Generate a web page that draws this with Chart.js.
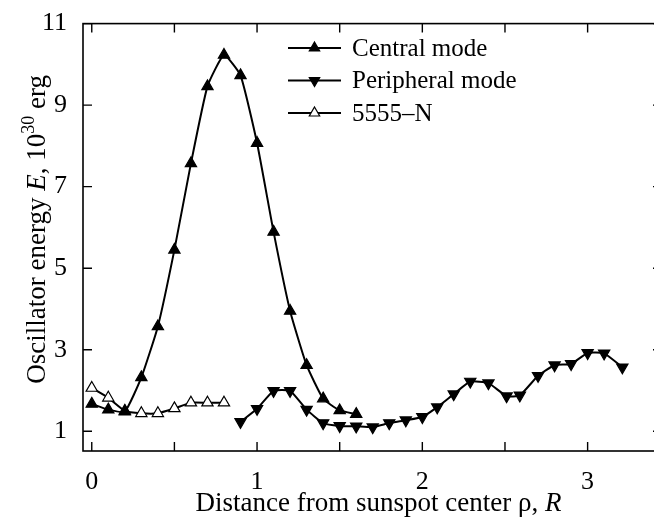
<!DOCTYPE html>
<html><head><meta charset="utf-8">
<script src="https://cdn.jsdelivr.net/npm/chart.js@4.4.1/dist/chart.umd.min.js"></script>
<style>html,body{margin:0;padding:0;background:#fff;overflow:hidden;width:654px;height:519px}#wrap{width:670px;height:519px}</style>
</head><body><div id="wrap"><canvas id="c" width="670" height="519"></canvas></div>
<script>
const seriesLabels = ['Central mode', 'Peripheral mode', '5555\u2013N'];
const centralX = [0, 0.1, 0.2, 0.3, 0.4, 0.5, 0.6, 0.7, 0.8, 0.9, 1.0, 1.1, 1.2, 1.3, 1.4, 1.5, 1.6];
const centralY = [1.67, 1.53, 1.48, 2.32, 3.57, 5.45, 7.57, 9.46, 10.23, 9.73, 8.07, 5.89, 3.95, 2.62, 1.8, 1.51, 1.42];
const peripheralX = [0.9, 1.0, 1.1, 1.2, 1.3, 1.4, 1.5, 1.6, 1.7, 1.8, 1.9, 2.0, 2.09, 2.19, 2.29, 2.4, 2.51, 2.59, 2.7, 2.8, 2.9, 3.0, 3.1, 3.21];
const peripheralY = [1.23, 1.55, 1.99, 1.99, 1.53, 1.2, 1.13, 1.12, 1.10, 1.2, 1.27, 1.35, 1.59, 1.91, 2.22, 2.18, 1.86, 1.88, 2.36, 2.62, 2.65, 2.92, 2.91, 2.57];
const n5555X = [0, 0.1, 0.2, 0.3, 0.4, 0.5, 0.6, 0.7, 0.8];
const n5555Y = [2.06, 1.82, 1.5, 1.44, 1.44, 1.56, 1.7, 1.7, 1.7];
const xTickValues = [0, 0.5, 1, 1.5, 2, 2.5, 3];
const yTickValues = [1, 3, 5, 7, 9, 11];
const xTitleParts = [['Distance from sunspot center \u03c1, ', 'n'], ['R', 'i']];
const yTitleParts = [['Oscillator energy ', 'n'], ['E', 'i'], [', 10', 'n'], ['30', 's'], [' erg', 'n']];

const FONT = '"Liberation Serif", "Times New Roman", serif';
const pts = (xs, ys) => xs.map((x, i) => ({x: x, y: ys[i]}));

function mkSet(label, data, rot, fill) {
  return {
    label: label, data: data, showLine: true,
    borderColor: '#000', borderWidth: 2, tension: 0.15,
    pointStyle: 'triangle', rotation: rot, pointRotation: rot,
    pointRadius: 6.5, pointHoverRadius: 6.5,
    pointBackgroundColor: fill, pointBorderColor: '#000', pointBorderWidth: 1.2
  };
}

function setFont(ctx, kind, size) {
  const s = kind === 's' ? Math.round(size * 0.65) : size;
  ctx.font = (kind === 'i' ? 'italic ' : '') + s + 'px ' + FONT;
}
function drawParts(ctx, parts, size) {
  let total = 0;
  parts.forEach(p => { setFont(ctx, p[1], size); total += ctx.measureText(p[0]).width; });
  let x = -total / 2;
  parts.forEach(p => {
    setFont(ctx, p[1], size);
    ctx.fillText(p[0], x, p[1] === 's' ? -size * 0.4 : 0);
    x += ctx.measureText(p[0]).width;
  });
}

const deco = {
  id: 'deco',
  afterDatasetsDraw(chart) {
    const ctx = chart.ctx, a = chart.chartArea;
    const xs = chart.scales.x, ys = chart.scales.y;
    ctx.save();
    ctx.strokeStyle = '#000';
    ctx.lineWidth = 1.6;
    ctx.strokeRect(a.left, a.top, a.right - a.left, a.bottom - a.top);
    ctx.lineWidth = 1.4;
    const TL = 9;
    ctx.beginPath();
    xs.ticks.forEach(t => {
      const px = xs.getPixelForValue(t.value);
      ctx.moveTo(px, a.bottom); ctx.lineTo(px, a.bottom - TL);
      ctx.moveTo(px, a.top); ctx.lineTo(px, a.top + TL);
    });
    ys.ticks.forEach(t => {
      const py = ys.getPixelForValue(t.value);
      ctx.moveTo(a.left, py); ctx.lineTo(a.left + TL, py);
      ctx.moveTo(a.right, py); ctx.lineTo(a.right - TL, py);
    });
    ctx.stroke();

    // axis titles
    ctx.fillStyle = '#000';
    ctx.textBaseline = 'alphabetic';
    ctx.textAlign = 'left';
    ctx.save();
    ctx.translate((a.left + a.right) / 2 + 6, 511);
    drawParts(ctx, xTitleParts, 27);
    ctx.restore();
    ctx.save();
    ctx.translate(45, (a.top + a.bottom) / 2 - 8);
    ctx.rotate(-Math.PI / 2);
    drawParts(ctx, yTitleParts, 27);
    ctx.restore();

    // legend
    const lx0 = 288, lx1 = 341, ly0 = 48, dy = 32.5, tx = 352;
    chart.data.datasets.forEach((ds, i) => {
      const y = ly0 + i * dy;
      ctx.strokeStyle = '#000';
      ctx.lineWidth = 2;
      ctx.beginPath(); ctx.moveTo(lx0, y); ctx.lineTo(lx1, y); ctx.stroke();
      ctx.fillStyle = ds.pointBackgroundColor;
      ctx.strokeStyle = ds.pointBorderColor;
      ctx.lineWidth = ds.pointBorderWidth;
      Chart.helpers.drawPoint(ctx, {pointStyle: 'triangle', rotation: ds.pointRotation, radius: 6, borderWidth: ds.pointBorderWidth}, (lx0 + lx1) / 2, y);
      ctx.fillStyle = '#000';
      ctx.font = '25px ' + FONT;
      ctx.textBaseline = 'middle';
      ctx.fillText(ds.label, tx, y + 1);
    });
    ctx.restore();
  }
};

new Chart(document.getElementById('c'), {
  type: 'scatter',
  data: {
    datasets: [
      mkSet(seriesLabels[0], pts(centralX, centralY), 0, '#000'),
      mkSet(seriesLabels[1], pts(peripheralX, peripheralY), 180, '#000'),
      mkSet(seriesLabels[2], pts(n5555X, n5555Y), 0, '#fff')
    ]
  },
  options: {
    responsive: false, animation: false, devicePixelRatio: 1,
    layout: {padding: {top: 18, right: 8, left: 0, bottom: 0}},
    plugins: {legend: {display: false}, tooltip: {enabled: false}},
    scales: {
      x: {
        type: 'linear', min: -0.053, max: 3.45,
        grid: {display: false}, border: {display: false},
        afterBuildTicks: s => { s.ticks = xTickValues.map(v => ({value: v})); },
        afterFit: s => { s.height = 68; },
        ticks: {
          autoSkip: false, maxRotation: 0, padding: 8, color: '#000',
          font: {family: FONT, size: 26},
          callback: v => (Math.abs(v - Math.round(v)) < 1e-9 ? String(Math.round(v)) : '')
        }
      },
      y: {
        type: 'linear', min: 0.515, max: 11,
        grid: {display: false}, border: {display: false},
        afterBuildTicks: s => { s.ticks = yTickValues.map(v => ({value: v})); },
        afterFit: s => { s.width = 83; },
        ticks: {padding: 8, color: '#000', font: {family: FONT, size: 26}}
      }
    }
  },
  plugins: [deco]
});
</script></body></html>
